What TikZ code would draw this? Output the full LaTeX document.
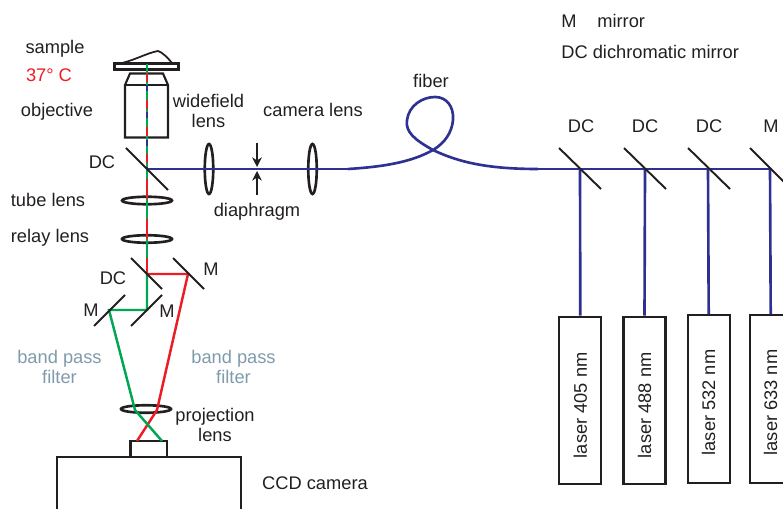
\documentclass[tikz,border=0pt]{standalone}
\usepackage{fontspec}
\setmainfont{Liberation Sans}
\usetikzlibrary{shapes.geometric,arrows.meta}
\definecolor{beamblue}{HTML}{2E3192}
\definecolor{beamgreen}{HTML}{00A651}
\definecolor{beamred}{HTML}{ED1C24}
\definecolor{filtergray}{HTML}{7F9BAB}
\definecolor{inkblack}{HTML}{231F20}

\begin{document}
\begin{tikzpicture}[x=0.02cm,y=-0.02cm,font=\fontsize{10.4}{11.4}\selectfont,text=inkblack,
  mirror/.style={draw=inkblack,line width=1.1pt},
  blueray/.style={draw=beamblue,line width=1.5pt},
  greenray/.style={draw=beamgreen,line width=1.4pt},
  redray/.style={draw=beamred,line width=1.4pt},
  lensh/.style={ellipse,draw=inkblack,line width=1.5pt,inner sep=0pt,minimum width=1cm,minimum height=0.15cm},
  lensv/.style={ellipse,draw=inkblack,line width=1.5pt,inner sep=0pt,minimum width=0.17cm,minimum height=1cm},
  housing/.style={draw=inkblack,line width=1.2pt},
  laserbox/.style={draw=inkblack,line width=1.2pt,rotate=90,minimum width=3.35cm,minimum height=0.84cm,inner sep=0pt},
  stoparrow/.style={-{Stealth[length=5.5pt,width=5.5pt]},draw=inkblack,line width=0.7pt},
  filterlabel/.style={text=filtergray,align=center}]
\useasboundingbox (0,0) rectangle (783,509);
\begin{scope}
\clip (0,0) rectangle (783,509);
% beam points
\coordinate (slide) at (147,64);
\coordinate (dcObj) at (147,169);
\coordinate (dcSplit) at (147,274);
\coordinate (mRed) at (188,274);
\coordinate (mGreenA) at (147,310);
\coordinate (mGreenB) at (109,310);
\coordinate (fiberIn) at (348,169);
\coordinate (fiberOut) at (538,169);
\coordinate (dcA) at (580,169);
\coordinate (dcB) at (645,169);
\coordinate (dcC) at (708,169);
\coordinate (mLaser) at (770,169);
\coordinate (chipRed) at (137,441);
\coordinate (chipGreen) at (162,441);
\coordinate (stopTop) at (257,143);
\coordinate (stopBottom) at (257,195);
\coordinate (stopUp) at (257,167);
\coordinate (stopDown) at (257,171);
% lenses
\node[lensh] (tubeLens) at (147,200.5) {};
\node[lensh] (relayLens) at (147,239) {};
\node[lensh] (projLens) at (146,409) {};
\node[lensv] (wideLens) at (209,169) {};
\node[lensv] (camLens) at (312.5,169) {};
% lasers
\node[laserbox] (laserA) at (580.3,400.3) {laser 405 nm\hspace*{5.7pt}};
\node[laserbox] (laserB) at (644.5,400.3) {laser 488 nm\hspace*{5.7pt}};
\node[laserbox] (laserC) at (708.7,399) {laser 532 nm\hspace*{4pt}};
\node[laserbox] (laserD) at (770.7,399) {laser 633 nm\hspace*{4pt}};
% detector
\draw[housing] (130.5,457) rectangle (167,441);
\draw[housing] (57,515) -- (57,457) -- (241,457) -- (241,515);
% sample and objective
\draw[housing,fill=white,line width=1.4pt] (114.5,63.5) rectangle (178.5,69.5);
\draw[housing,line width=1pt] (122,63) .. controls (135,60) and (147,53) .. (158,51) .. controls (162,52) and (168,58) .. (172,63);
\draw[housing] (125,85) -- (130,73.5) -- (163,73.5) -- (168,85) -- (168,137.5) -- (125,137.5) -- cycle;
\draw[housing] (125,85) -- (168,85);
% excitation and emission beams
\draw[beamblue,line width=1.3pt] (dcObj) -- (slide);
\draw[beamgreen,line width=1.5pt,dash pattern=on 12pt off 3.5pt] (slide) -- (dcObj);
\draw[beamred,line width=1.5pt,dash pattern=on 5pt off 10.5pt,dash phase=-5pt] (slide) -- (dcObj);
\draw[beamred,line width=1.5pt] (dcObj) -- (dcSplit);
\draw[beamgreen,line width=1.5pt,dash pattern=on 11.3pt off 11.3pt,dash phase=-17pt] (dcObj) -- (dcSplit);
\draw[blueray] (dcObj) -- (wideLens.center) -- (camLens.center) -- (fiberIn);
\draw[blueray] (fiberIn) .. controls (380,167) and (410,163) .. (433,150) .. controls (415,140) and (405,132) .. (407,120) .. controls (409,105) and (423,97) .. (435,97) .. controls (447,97) and (454,107) .. (453,120) .. controls (452,132) and (445,143) .. (433,150) .. controls (460,163) and (490,169) .. (fiberOut);
\draw[blueray] (fiberOut) -- (dcA) -- (dcB) -- (dcC) -- (mLaser);
\draw[blueray] (dcA) -- (laserA.east);
\draw[blueray] (dcB) -- (laserB.east);
\draw[blueray] (dcC) -- (laserC.east);
\draw[blueray] (mLaser) -- (laserD.east);
\draw[redray] (dcSplit) -- (mRed) -- (157,410) -- (chipRed);
\draw[greenray] (dcSplit) -- (mGreenA) -- (mGreenB) -- (135,410) -- (chipGreen);
% mirrors
\draw[mirror] ([shift={(-21,-21)}]dcObj) -- ([shift={(21,21)}]dcObj);
\draw[mirror] ([shift={(-16,-16)}]dcSplit) -- ([shift={(15,15)}]dcSplit);
\draw[mirror] ([shift={(-15,-16)}]mRed) -- ([shift={(16,15)}]mRed);
\draw[mirror] ([shift={(15,-15)}]mGreenA) -- ([shift={(-16,16)}]mGreenA);
\draw[mirror] ([shift={(16,-15)}]mGreenB) -- ([shift={(-15,16)}]mGreenB);
\draw[mirror] ([shift={(-21,-21)}]dcA) -- ([shift={(21,20)}]dcA);
\draw[mirror] ([shift={(-21,-21)}]dcB) -- ([shift={(21,20)}]dcB);
\draw[mirror] ([shift={(-20,-21)}]dcC) -- ([shift={(22,20)}]dcC);
\draw[mirror] ([shift={(-20,-21)}]mLaser) -- ([shift={(21,20)}]mLaser);
% diaphragm
\draw[stoparrow] (stopTop) -- (stopUp);
\draw[stoparrow] (stopBottom) -- (stopDown);
\end{scope}
% labels
\node (sampleLabel) at (55,49) {sample};
\node[text=beamred] (tempLabel) at (49,75) {37° C};
\node (objLabel) at (57,112) {objective};
\node[align=center] (wideLabel) at (208.5,111) {widefield\\lens};
\node (camLabel) at (313,110) {camera lens};
\node (fiberLabel) at (431,81) {fiber};
\node (dcObjLabel) at (102,162) {DC};
\node (tubeLabel) at (48,199.5) {tube lens};
\node (relayLabel) at (50,238) {relay lens};
\node (stopLabel) at (257,211.5) {diaphragm};
\node (dcSplitLabel) at (113,278) {DC};
\node (mRedLabel) at (211,269) {M};
\node (mGreenALabel) at (167,311) {M};
\node (mGreenBLabel) at (91,310) {M};
\node[filterlabel] (filterLeft) at (59.5,366.5) {band pass\\filter};
\node[filterlabel] (filterRight) at (233.5,366.5) {band pass\\filter};
\node[align=center] (projLabel) at (215,424.5) {projection\\lens};
\node (ccdLabel) at (315,483) {CCD camera};
\node (dcALabel) at (581,126) {DC};
\node (dcBLabel) at (645,126) {DC};
\node (dcCLabel) at (709,126) {DC};
\node (mLaserLabel) at (771,126) {M};
\node[anchor=base west,inner sep=0pt] (keyM) at (561,27.5) {M};
\node[anchor=base west,inner sep=0pt] (keyMirror) at (597,27.5) {mirror};
\node[anchor=base west,inner sep=0pt] (keyDC) at (561,58.5) {DC dichromatic mirror};
\end{tikzpicture}
\end{document}
